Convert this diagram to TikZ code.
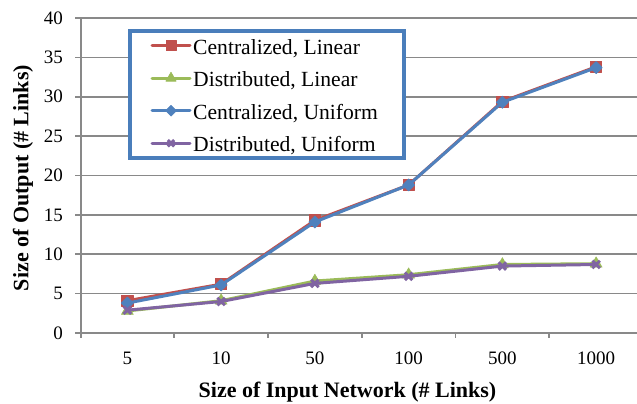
\documentclass[tikz,border=0pt]{standalone}
\usepackage{fontspec}
\setmainfont{Liberation Serif}
\usetikzlibrary{plotmarks}
\definecolor{serRed}{HTML}{C0504D}
\definecolor{serGreen}{HTML}{9BBB59}
\definecolor{serBlue}{HTML}{4F81BD}
\definecolor{serPurple}{HTML}{8064A2}
\definecolor{legBlue}{HTML}{4A7EBB}
\definecolor{gridGray}{HTML}{898989}
\begin{document}
\begin{tikzpicture}[x=1pt,y=-1pt,
  gridline/.style={draw=gridGray,line width=1.6pt},
  series/.style={line width=3pt,line join=round,line cap=round},
  sCL/.style={series,serRed,mark=square*,mark size=5.6pt,mark options={line width=0.6pt}},
  sDL/.style={series,serGreen,mark=triangle*,mark size=6.8pt,mark options={line width=0.6pt}},
  sCU/.style={series,serBlue,mark=square*,mark size=4.3pt,mark options={rotate=45,line width=0.6pt}},
  sDU/.style={series,serPurple,mark=x,mark size=5.3pt,mark options={line width=3pt,line cap=butt}},
  legmark/.style={mark indices={2},mark size=#1},
  ticklab/.style={font=\fontsize{19}{21}\selectfont,inner sep=0pt},
  axtitle/.style={font=\fontsize{22}{24}\selectfont\bfseries,inner sep=0pt},
  legtext/.style={font=\fontsize{21.6}{23}\selectfont,inner sep=0pt,anchor=base west}]
\useasboundingbox (0,0) rectangle (637,404);
\fill[white] (0,0) rectangle (637,404);

% horizontal gridlines with value labels
\foreach \v in {0,5,...,40} {
  \draw[gridline] (75,{333-7.875*\v}) -- (637,{333-7.875*\v});
  \node[ticklab,anchor=east] (yl\v) at (63,{333-7.875*\v}) {\v};
}
% vertical axis and category tick marks
\draw[gridline] (81,17.5) -- (81,338);
\foreach \i in {1,...,5}
  \draw[gridline] ({80.5+93.75*\i},333) -- ++(0,5);
\foreach \lab [count=\i] in {5,10,50,100,500,1000}
  \node[ticklab,anchor=base] (xl\i) at ({80.5+93.75*(\i-0.5)},364) {\lab};

% axis titles
\node[axtitle,anchor=base] (xtitle) at (347.5,397.5) {Size of Input Network (\# Links)};
\node[axtitle,rotate=90] (ytitle) at (23,178) {Size of Output (\# Links)};

% data series
\begin{scope}[shift={(80.5,333)},x=93.75pt,y=7.875pt]
  \draw[sCL] plot coordinates {(0.5,4.1) (1.5,6.2) (2.5,14.3) (3.5,18.8) (4.5,29.4) (5.5,33.8)};
  \draw[sDL] plot coordinates {(0.5,2.8) (1.5,4.1) (2.5,6.6) (3.5,7.4) (4.5,8.7) (5.5,8.8)};
  \draw[sCU] plot coordinates {(0.5,3.8) (1.5,6.1) (2.5,14.1) (3.5,18.8) (4.5,29.3) (5.5,33.7)};
  \draw[sDU] plot coordinates {(0.5,2.9) (1.5,4.0) (2.5,6.3) (3.5,7.2) (4.5,8.5) (5.5,8.7)};
\end{scope}

% legend
\draw[draw=legBlue,line width=4pt,fill=white] (130,31) rectangle (403.7,158);
\draw[sCL,legmark=5pt] plot coordinates {(152,45.7) (171,45.7) (190,45.7)};
\node[legtext] (lg1) at (193,54.3) {Centralized, Linear};
\draw[sDL,legmark=6pt] plot coordinates {(152,78.2) (171,78.2) (190,78.2)};
\node[legtext] (lg2) at (193,86.8) {Distributed, Linear};
\draw[sCU,legmark=3.8pt] plot coordinates {(152,110.7) (171,110.7) (190,110.7)};
\node[legtext] (lg3) at (193,119.3) {Centralized, Uniform};
\draw[sDU,legmark=4.5pt] plot coordinates {(152,143.2) (171,143.2) (190,143.2)};
\node[legtext] (lg4) at (193,151.8) {Distributed, Uniform};
\end{tikzpicture}
\end{document}
